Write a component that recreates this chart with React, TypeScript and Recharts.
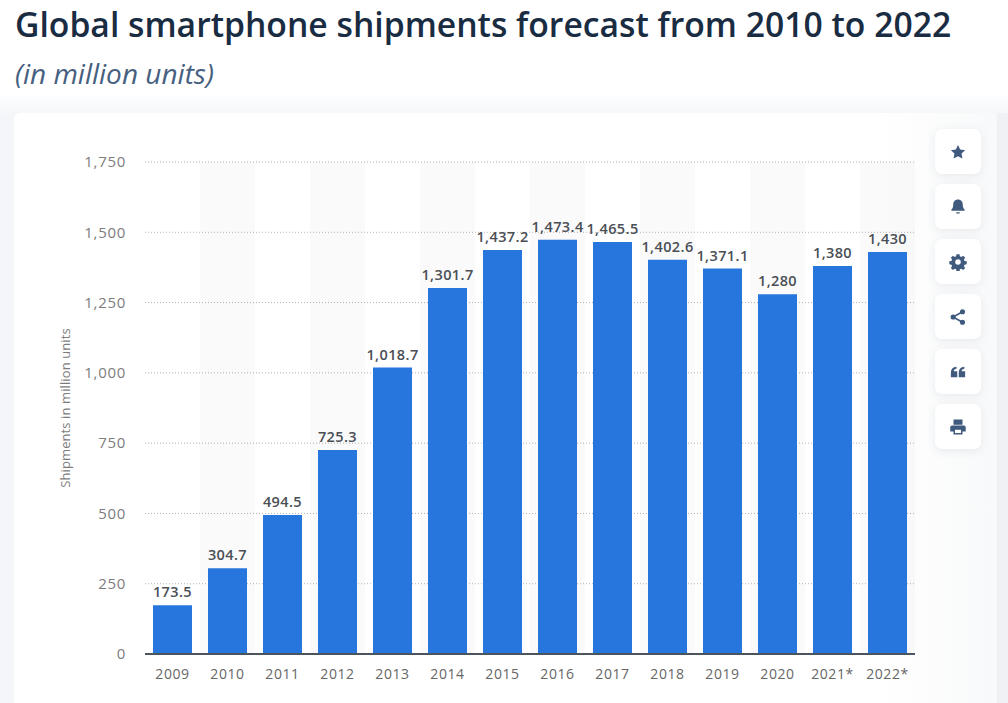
import { BarChart, Bar, XAxis, YAxis, CartesianGrid, LabelList, ReferenceArea } from 'recharts'

const years = ['2009', '2010', '2011', '2012', '2013', '2014', '2015', '2016', '2017', '2018', '2019', '2020', '2021*', '2022*']
const shipments = [173.5, 304.7, 494.5, 725.3, 1018.7, 1301.7, 1437.2, 1473.4, 1465.5, 1402.6, 1371.1, 1280, 1380, 1430]
const yTicks = [0, 250, 500, 750, 1000, 1250, 1500, 1750]
const stripedYears = ['2010', '2012', '2014', '2016', '2018', '2020', '2022*']

const data = years.map((year, i) => ({ year, shipments: shipments[i] }))

const font = '"Open Sans", sans-serif'
const fmt = (v: number) => v.toLocaleString('en-US')

// toolbar icons on the right of the card
const icons = [
  <path d="M12 2.500l2.900 6.100 6.600.9-4.800 4.600 1.200 6.600L12 17.600l-5.900 3.100 1.200-6.600-4.800-4.600 6.600-.9z" />,
  <g>
    <path d="M12 2c-3.800 0-6.400 3-6.400 6.600 0 4-1 5.300-2.300 6.700-.6.700-.2 1.700.8 1.700h15.800c1 0 1.400-1 .8-1.700-1.300-1.400-2.300-2.700-2.300-6.700C18.400 5 15.800 2 12 2z" />
    <rect x="9.500" y="19" width="5" height="1.800" rx="0.900" />
  </g>,
  <path
    fillRule="evenodd"
    d="M10 1.500h4l.5 2.900 1.900.8 2.400-1.700 2.800 2.800-1.700 2.400.8 1.900 2.900.5v4l-2.900.5-.8 1.900 1.700 2.400-2.800 2.800-2.400-1.700-1.900.8-.5 2.900h-4l-.5-2.900-1.900-.8-2.400 1.700-2.800-2.800 1.700-2.400-.8-1.900-2.900-.5v-4l2.900-.5.8-1.900-1.700-2.400 2.800-2.800 2.400 1.700 1.900-.8zM12 8.300a3.700 3.700 0 100 7.400 3.700 3.700 0 000-7.400z"
  />,
  <g>
    <circle cx="18" cy="5" r="3.400" />
    <circle cx="5.500" cy="12" r="3.400" />
    <circle cx="18" cy="19" r="3.400" />
    <path d="M5.500 12L18 5M5.500 12L18 19" stroke="#3f5a7d" strokeWidth="2" />
  </g>,
  <path d="M2.500 12.500C2.500 8 5 5.500 10 5v2.800C7.700 8.200 6.500 9.400 6.400 11H11v8H2.500zM13 12.500C13 8 15.500 5.500 20.500 5v2.800c-2.300.4-3.500 1.600-3.600 3.200h4.600v8H13z" />,
  <path
    fillRule="evenodd"
    d="M6 2h12v7H6zM4 10h16c1.300 0 2.300 1 2.300 2.300V18H18v4H6v-4H1.700v-5.700C1.700 11 2.700 10 4 10zM8 15.500V20h8v-4.500z"
  />,
]

export default function App() {
  return (
    <div style={{ position: 'absolute', left: 0, top: 0, width: 1008, height: 703, overflow: 'hidden', background: '#fff', fontFamily: font }}>
      <div style={{ position: 'absolute', left: 0, top: 96, width: 1008, height: 607, background: 'linear-gradient(#fdfefe, #f4f6f9 20px)' }} />
      <div style={{ position: 'absolute', left: 997, top: 113, width: 11, height: 590, background: '#eff1f4' }} />
      <div style={{ position: 'absolute', left: 15, top: 2, fontSize: 33.7, fontWeight: 600, color: '#1a2c42', whiteSpace: 'nowrap', lineHeight: '44px' }}>
        Global smartphone shipments forecast from 2010 to 2022
      </div>
      <div style={{ position: 'absolute', left: 15, top: 55, fontSize: 28, fontStyle: 'italic', color: '#46607f', whiteSpace: 'nowrap', lineHeight: '36px' }}>
        (in million units)
      </div>
      <div style={{ position: 'absolute', left: 14, top: 113, width: 983, height: 620, background: 'linear-gradient(90deg, #fff 88%, #f8f9fa)', borderRadius: 6 }} />

      <div style={{ position: 'absolute', left: 0, top: 0 }}>
        <BarChart
          width={1008}
          height={703}
          data={data}
          barSize={39}
          margin={{ top: 162, right: 93, bottom: 0, left: 59 }}
        >
          <CartesianGrid vertical={false} strokeDasharray="1 2" stroke="#b4b4b4" />
          {stripedYears.map((y) => (
            <ReferenceArea key={y} x1={y} x2={y} fill="#000" fillOpacity={0.018} stroke="none" />
          ))}
          <XAxis
            dataKey="year"
            height={49}
            tickLine={false}
            tickMargin={9}
            axisLine={{ stroke: '#4a5560', strokeWidth: 2 }}
            tick={{ fontSize: 14, fill: '#666', fontFamily: font, letterSpacing: 0.6 }}
          />
          <YAxis
            width={86}
            domain={[0, 1750]}
            ticks={yTicks}
            tickFormatter={fmt}
            axisLine={false}
            tickLine={false}
            tickMargin={13}
            tick={{ fontSize: 15, fill: '#7d7d7d', fontFamily: font, letterSpacing: 0.7 }}
            label={{
              value: 'Shipments in million units',
              angle: -90,
              position: 'insideLeft',
              offset: 6,
              style: { fontSize: 13, fill: '#7d7d7d', fontFamily: font, textAnchor: 'middle', letterSpacing: 0.1 },
            }}
          />
          <Bar dataKey="shipments" fill="#2776dd" isAnimationActive={false}>
            <LabelList
              dataKey="shipments"
              position="top"
              offset={8}
              formatter={fmt}
              style={{ fontSize: 14.5, fontWeight: 600, fill: '#4a4f56', fontFamily: font, letterSpacing: 0.4 }}
            />
          </Bar>
        </BarChart>
      </div>

      {icons.map((icon, i) => (
        <div
          key={i}
          style={{
            position: 'absolute',
            left: 935,
            top: 129 + i * 55,
            width: 46,
            height: 45,
            borderRadius: 7,
            background: '#fff',
            boxShadow: '0 2px 10px rgba(60, 80, 110, 0.10)',
            display: 'flex',
            alignItems: 'center',
            justifyContent: 'center',
          }}
        >
          <svg width="18" height="18" viewBox="0 0 24 24" fill="#3f5a7d">
            {icon}
          </svg>
        </div>
      ))}
    </div>
  )
}
